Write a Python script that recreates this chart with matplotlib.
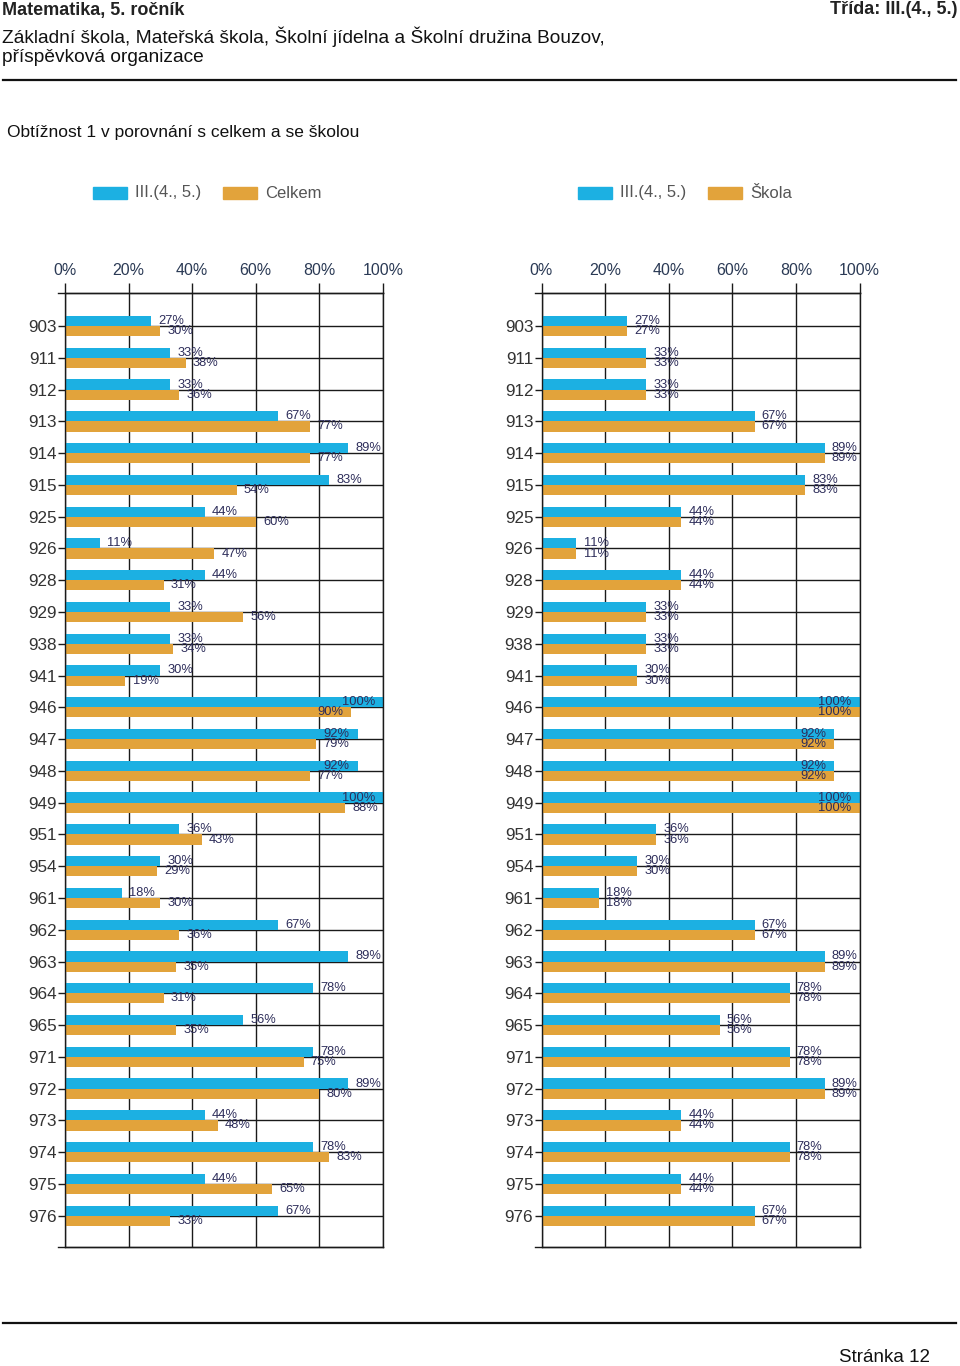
import matplotlib
matplotlib.use('Agg')
import matplotlib.pyplot as plt
from matplotlib.patches import Rectangle
from matplotlib.lines import Line2D
import numpy as np

plt.rcParams['font.family'] = ['Liberation Sans', 'DejaVu Sans']

# ---------------- data ----------------
categories = ['903', '911', '912', '913', '914', '915', '925', '926', '928', '929',
              '938', '941', '946', '947', '948', '949', '951', '954', '961', '962',
              '963', '964', '965', '971', '972', '973', '974', '975', '976']
trida = [27, 33, 33, 67, 89, 83, 44, 11, 44, 33, 33, 30, 100, 92, 92, 100, 36, 30,
         18, 67, 89, 78, 56, 78, 89, 44, 78, 44, 67]
celkem = [30, 38, 36, 77, 77, 54, 60, 47, 31, 56, 34, 19, 90, 79, 77, 88, 43, 29,
          30, 36, 35, 31, 35, 75, 80, 48, 83, 65, 33]
skola = [27, 33, 33, 67, 89, 83, 44, 11, 44, 33, 33, 30, 100, 92, 92, 100, 36, 30,
         18, 67, 89, 78, 56, 78, 89, 44, 78, 44, 67]
tick_values = [0, 20, 40, 60, 80, 100]
tick_labels = ['0%', '20%', '40%', '60%', '80%', '100%']
series_class = 'III.(4., 5.)'
series_total = 'Celkem'
series_school = 'Škola'

# ---------------- style ----------------
W, H = 960, 1366
BLUE = '#1cb0e2'
ORANGE = '#e2a33b'
LINE = '#1a1a1a'
VAL_COLOR = '#2d2d5a'

fig = plt.figure(figsize=(W / 100, H / 100), dpi=100)


def fx(px):
    return px / W


def fy(py):
    return 1 - py / H


def draw_panel(x0, values_a, values_b):
    top, bottom, width = 293, 1247, 318
    ax = fig.add_axes([fx(x0), fy(bottom), width / W, (bottom - top) / H])
    n = len(categories)
    y = np.arange(n)
    h = 0.32
    ax.barh(y - h / 2, values_a, height=h, color=BLUE, zorder=2)
    ax.barh(y + h / 2, values_b, height=h, color=ORANGE, zorder=2)
    ax.set_xlim(0, 100)
    ax.set_ylim(n - 1 + 0.985, -1.04)

    ax.set_xticks(tick_values)
    ax.set_xticklabels(tick_labels)
    ax.set_yticks(y)
    ax.set_yticklabels(categories)
    ax.set_axisbelow(True)
    ax.grid(True, color=LINE, linewidth=1.0)
    ax.xaxis.tick_top()
    ax.tick_params(axis='x', top=True, bottom=False, labeltop=True, labelbottom=False,
                   length=7.2, width=1.0, direction='out', pad=3.5,
                   labelsize=11.5, labelcolor='#2b3a55', color=LINE)
    ax.tick_params(axis='y', length=4.7, width=1.0, direction='out', pad=1.2,
                   labelsize=12.3, labelcolor='#333333', color=LINE)
    for s in ax.spines.values():
        s.set_color(LINE)
        s.set_linewidth(1.0)

    ext = -7 / width
    for yy in (0, 1):
        ax.add_line(Line2D([ext, 1], [yy, yy], transform=ax.transAxes,
                           color=LINE, linewidth=1.0, clip_on=False))

    for vals, off in ((values_a, -h / 2), (values_b, h / 2)):
        for i, v in enumerate(vals):
            if v >= 90:
                ax.annotate(f'{v}%', (v, i + off), xytext=(-5.6, 0),
                            textcoords='offset points', ha='right', va='center',
                            fontsize=9.3, color=VAL_COLOR, zorder=3)
            else:
                ax.annotate(f'{v}%', (v, i + off), xytext=(5.2, 0),
                            textcoords='offset points', ha='left', va='center',
                            fontsize=9.3, color=VAL_COLOR, zorder=3)
    return ax


draw_panel(65, trida, celkem)
draw_panel(541.5, trida, skola)


# ---------------- legends ----------------
def legend_entry(px, color, label):
    fig.add_artist(Rectangle((fx(px), fy(199)), 34 / W, 12 / H,
                             transform=fig.transFigure, color=color))
    fig.text(fx(px + 42), fy(193), label, fontsize=12, color='#555555',
             ha='left', va='center')


legend_entry(93, BLUE, series_class)
legend_entry(223, ORANGE, series_total)
legend_entry(578, BLUE, series_class)
legend_entry(708, ORANGE, series_school)

# ---------------- header / footer ----------------
fig.text(fx(2), fy(10), 'Matematika, 5. ročník', fontsize=13, fontweight='bold',
         color='#222222', ha='left', va='center')
fig.text(fx(957), fy(10), 'Třída: III.(4., 5.)', fontsize=13, fontweight='bold',
         color='#222222', ha='right', va='center')
fig.text(fx(2), fy(37), 'Základní škola, Mateřská škola, Školní jídelna a Školní družina Bouzov,',
         fontsize=13.8, color='#111111', ha='left', va='center')
fig.text(fx(2), fy(57), 'příspěvková organizace', fontsize=13.8, color='#111111',
         ha='left', va='center')
fig.add_artist(Line2D([fx(3), fx(956)], [fy(80), fy(80)], transform=fig.transFigure,
                      color='#111111', linewidth=1.6))
fig.text(fx(7), fy(132), 'Obtížnost 1 v porovnání s celkem a se školou', fontsize=12.5,
         color='#111111', ha='left', va='center')

fig.add_artist(Line2D([fx(3), fx(956)], [fy(1323), fy(1323)], transform=fig.transFigure,
                      color='#111111', linewidth=1.6))
fig.text(fx(930), fy(1357), 'Stránka 12', fontsize=13.5, color='#111111',
         ha='right', va='center')

fig.savefig('out.png', dpi=100)
